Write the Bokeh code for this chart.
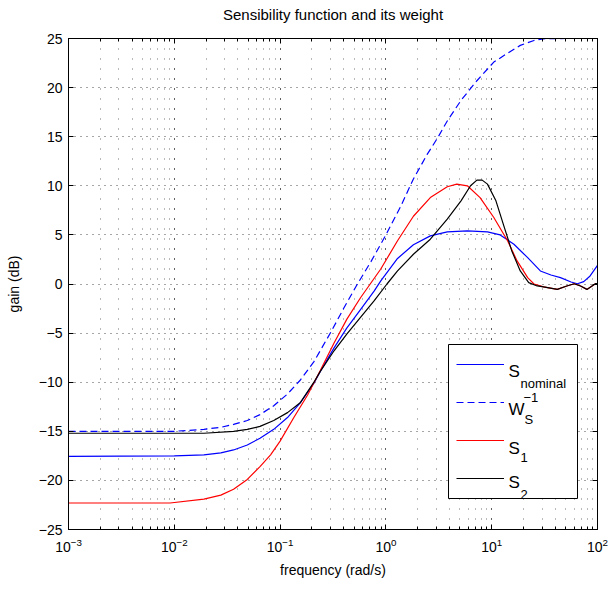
import numpy as np
from bokeh.plotting import figure
from bokeh.models import (LogAxis, LinearAxis, FixedTicker, LogTicker, Label,
                          Legend, LegendItem, CustomJSTickFormatter, BoxAnnotation)
from bokeh.embed import file_html
from bokeh.resources import INLINE

FONT = "Liberation Sans"

# ---- data (log10 of frequency in rad/s, gain in dB) ----
w_inv_logf = [-3.0, -2.0, -1.72, -1.56, -1.44, -1.31, -1.19, -1.06, -0.93, -0.81,
              -0.68, -0.52, -0.40, -0.28, -0.14, 0.0, 0.14, 0.26, 0.39, 0.49,
              0.58, 0.71, 0.86, 1.02, 1.15, 1.27, 1.40, 1.49, 1.7, 2.0]
w_inv_db = [-15.0, -15.0, -14.8, -14.6, -14.3, -13.9, -13.3, -12.4, -11.2, -9.8,
            -7.9, -4.9, -2.5, -0.2, 2.3, 5.0, 7.9, 10.7, 13.2, 14.9,
            16.6, 18.7, 20.7, 22.6, 23.5, 24.3, 24.8, 24.97, 25.0, 25.0]

s_nom_logf = [-3.0, -2.0, -1.72, -1.56, -1.44, -1.31, -1.19, -1.06, -0.93, -0.81,
              -0.68, -0.62, -0.49, -0.37, -0.24, -0.11, -0.05, 0.11, 0.26, 0.42,
              0.58, 0.77, 0.96, 1.08, 1.21, 1.34, 1.46, 1.56, 1.65, 1.75,
              1.81, 1.87, 1.93, 2.0]
s_nom_db = [-17.55, -17.5, -17.4, -17.2, -16.9, -16.4, -15.7, -14.8, -13.6, -12.1,
            -10.1, -8.9, -6.5, -4.5, -2.6, -0.7, 0.3, 2.6, 4.0, 4.9,
            5.3, 5.4, 5.3, 5.0, 4.05, 2.68, 1.33, 0.92, 0.65, 0.2,
            0.03, 0.24, 0.82, 1.9]

s1_logf = [-3.0, -2.04, -1.72, -1.56, -1.44, -1.31, -1.19, -1.09, -1.0, -0.87,
           -0.74, -0.62, -0.49, -0.37, -0.24, -0.05, 0.11, 0.26, 0.42, 0.58,
           0.67, 0.77, 0.89, 1.02, 1.15, 1.24, 1.34, 1.40, 1.49, 1.62,
           1.71, 1.78, 1.84, 1.90, 1.98, 2.0]
s1_db = [-22.3, -22.3, -21.9, -21.5, -20.9, -19.9, -18.6, -17.4, -16.0, -13.6,
         -11.3, -8.8, -6.0, -3.6, -1.4, 1.5, 4.4, 6.9, 8.8, 9.9,
         10.17, 10.0, 8.8, 6.77, 4.4, 2.35, 0.65, 0.0, -0.3, -0.55,
         -0.2, 0.03, -0.2, -0.55, 0.03, 0.05]

s2_logf = [-3.0, -2.0, -1.72, -1.44, -1.31, -1.19, -1.06, -0.93, -0.81, -0.68,
           -0.62, -0.49, -0.37, -0.24, -0.11, 0.01, 0.11, 0.26, 0.42, 0.58,
           0.71, 0.80, 0.86, 0.91, 0.96, 1.04, 1.12, 1.19, 1.27, 1.35,
           1.43, 1.49, 1.62, 1.71, 1.78, 1.84, 1.90, 1.98, 2.0]
s2_db = [-15.2, -15.2, -15.2, -15.0, -14.8, -14.5, -13.9, -13.1, -12.1, -10.0,
         -8.9, -6.8, -5.1, -3.4, -1.7, 0.0, 1.33, 3.03, 4.56, 6.6,
         8.47, 10.0, 10.58, 10.58, 10.17, 8.47, 5.74, 3.37, 1.33, 0.14,
         -0.2, -0.3, -0.55, -0.2, 0.03, -0.2, -0.55, 0.03, 0.05]

y_ticks = [-25, -20, -15, -10, -5, 0, 5, 10, 15, 20, 25]
title_text = "Sensibility function and its weight"

# ---- figure ----
p = figure(width=608, height=590, x_axis_type="log", title=None,
           x_range=(1e-3, 1e2), y_range=(-25, 25),
           output_backend="svg", toolbar_location=None,
           min_border_left=68, min_border_right=11,
           min_border_top=38, min_border_bottom=61,
           background_fill_color="white", border_fill_color="white")

p.outline_line_color = "black"
p.outline_line_width = 1

# axes
xticker = LogTicker(num_minor_ticks=10)
yticker = FixedTicker(ticks=y_ticks)

xa = p.xaxis[0]
xa.ticker = xticker
ya = p.yaxis[0]
ya.ticker = yticker
ya.formatter = CustomJSTickFormatter(code="return tick < 0 ? '\\u2212' + (-tick) : String(tick);")

for ax in (xa, ya):
    ax.axis_line_color = "black"
    ax.major_tick_in = 5
    ax.major_tick_out = 0
    ax.minor_tick_in = 3
    ax.minor_tick_out = 0
    ax.major_label_text_font = FONT
    ax.major_label_text_font_size = "14px"
    ax.major_label_text_color = "black"
    ax.axis_label_text_font = FONT
    ax.axis_label_text_font_size = "14px"
    ax.axis_label_text_font_style = "normal"
    ax.axis_label_text_color = "black"
ya.minor_tick_in = 0
xa.axis_label = "frequency (rad/s)"
ya.axis_label = "gain (dB)"
xa.major_label_standoff = 8
ya.major_label_standoff = 6
xa.axis_label_standoff = 7
ya.axis_label_standoff = 14

# top axis carries the chart title as its label (MATLAB-like box with ticks)
top = LogAxis(ticker=xticker, formatter=CustomJSTickFormatter(code="return '';"),
              major_tick_in=5, major_tick_out=0, minor_tick_in=3, minor_tick_out=0,
              major_label_standoff=0, major_label_text_font_size="1px",
              axis_line_color="black",
              axis_label=title_text, axis_label_standoff=16,
              axis_label_text_font=FONT, axis_label_text_font_size="15px",
              axis_label_text_font_style="normal", axis_label_text_color="black")
right = LinearAxis(ticker=yticker, formatter=CustomJSTickFormatter(code="return '';"),
                   major_tick_in=5, major_tick_out=0, minor_tick_in=0, minor_tick_out=0,
                   major_label_standoff=0, major_label_text_font_size="1px",
                   axis_line_color="black")
p.add_layout(top, "above")
p.add_layout(right, "right")

# grids: MATLAB-like dotted
p.xgrid.grid_line_color = "black"
p.xgrid.grid_line_alpha = 0.55
p.xgrid.grid_line_dash = "1 9"
p.xgrid.minor_grid_line_color = "black"
p.xgrid.minor_grid_line_alpha = 0.55
p.xgrid.minor_grid_line_dash = "1 9"
p.ygrid.grid_line_color = "black"
p.ygrid.grid_line_alpha = 0.7
p.ygrid.grid_line_dash = "1 5"

# curves
r_nom = p.line(10 ** np.array(s_nom_logf), s_nom_db, line_color="#0000ff", line_width=1.2)
r_w = p.line(10 ** np.array(w_inv_logf), w_inv_db, line_color="#0000ff", line_width=1.2,
             line_dash="7 4")
r_s1 = p.line(10 ** np.array(s1_logf), s1_db, line_color="#ff0000", line_width=1.2)
r_s2 = p.line(10 ** np.array(s2_logf), s2_db, line_color="#000000", line_width=1.2)

FL, FB = 68, 529  # frame left / bottom in page pixels

# legend box, samples and TeX-like texts
p.add_layout(BoxAnnotation(left=448 - FL, right=577 - FL, top=FB - 344, bottom=FB - 498,
                           left_units="screen", right_units="screen",
                           top_units="screen", bottom_units="screen",
                           fill_color="white", fill_alpha=1.0,
                           line_color="black", line_width=1, line_alpha=1.0))

leg = Legend(items=[LegendItem(label=" ", renderers=[r]) for r in (r_nom, r_w, r_s1, r_s2)],
             location=(448 - FL, FB - 498),
             glyph_width=48, glyph_height=24, label_height=24, label_width=60,
             label_standoff=5, spacing=14, padding=8, margin=0,
             border_line_alpha=0, background_fill_alpha=0,
             label_text_font_size="1px")
p.add_layout(leg)

def txt(s, px, py, size):
    p.add_layout(Label(x=px - FL, y=FB - py, x_units="screen", y_units="screen",
                       text=s, text_font=FONT, text_font_size=size,
                       text_color="black", text_baseline="alphabetic"))

BIG, SMALL = "17px", "13px"
txt("S", 508, 371, BIG)
txt("nominal", 520, 383, SMALL)
txt("W", 508, 409, BIG)
txt("\u22121", 523, 397, SMALL)
txt("S", 524, 419, SMALL)
txt("S", 508, 448, BIG)
txt("1", 520, 457, SMALL)
txt("S", 508, 482, BIG)
txt("2", 520, 494, SMALL)

open("out.html", "w").write(file_html(p, INLINE))
